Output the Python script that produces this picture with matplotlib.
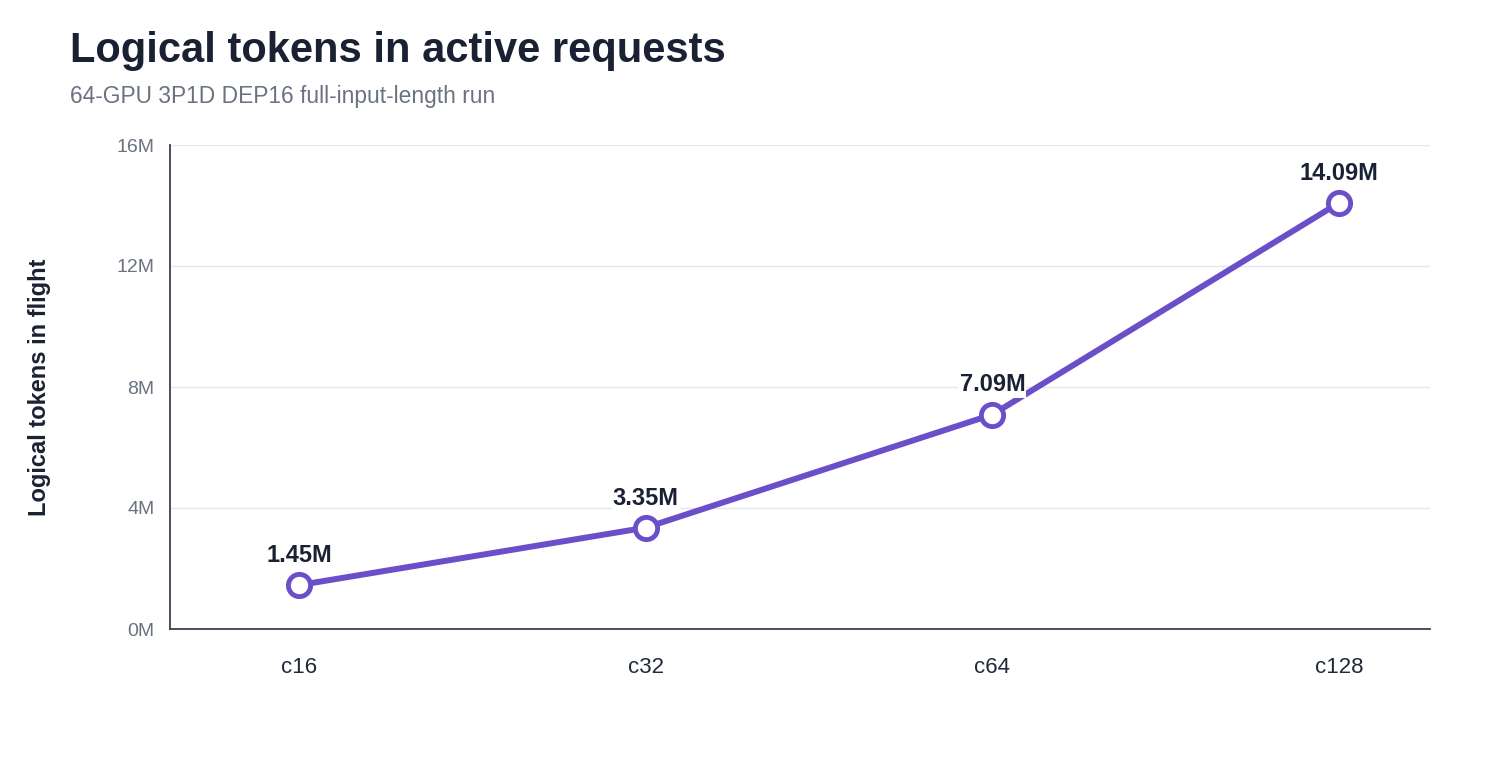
import matplotlib
matplotlib.use("Agg")
import matplotlib.pyplot as plt
from matplotlib.ticker import FuncFormatter

categories = ["c16", "c32", "c64", "c128"]
values_m = [1.45, 3.35, 7.09, 14.09]
labels = ["1.45M", "3.35M", "7.09M", "14.09M"]
yticks = [0, 4, 8, 12, 16]

plt.rcParams['font.family'] = ['Liberation Sans', 'DejaVu Sans']

fig = plt.figure(figsize=(15, 7.6), dpi=100)
ax = fig.add_axes([170/1500, 1-629/760, 1260/1500, 484/760])

x = list(range(len(categories)))
ax.plot(x, values_m, color="#6a4fc9", lw=4.3, marker="o", ms=16,
        mfc="white", mec="#6a4fc9", mew=3.5, zorder=3, solid_capstyle="round")
for xi, v, lab in zip(x, values_m, labels):
    ax.annotate(lab, (xi, v), xytext=(0, 13), textcoords="offset points",
                ha="center", va="bottom", fontsize=17, fontweight="bold",
                color="#1a2133", zorder=4,
                bbox=dict(boxstyle="square,pad=0.05", fc="white", ec="none"))

ax.set_xlim(-0.372, 3.262)
ax.set_ylim(0, 16)
ax.set_yticks(yticks)
ax.yaxis.set_major_formatter(FuncFormatter(lambda v, p: f"{int(v)}M"))
ax.set_xticks(x)
ax.set_xticklabels(categories)
ax.grid(axis="y", color="#e5e7eb", lw=1)
ax.set_axisbelow(True)
for s in ["top", "right"]:
    ax.spines[s].set_visible(False)
for s in ["left", "bottom"]:
    ax.spines[s].set_color("#374151")
    ax.spines[s].set_linewidth(1.3)
ax.tick_params(axis="y", length=0, pad=11, labelsize=14, labelcolor="#6b7280")
ax.tick_params(axis="x", length=0, pad=20, labelsize=16, labelcolor="#1f2937")
ax.set_ylabel("Logical tokens in flight", fontsize=17, fontweight="bold",
              color="#1a2133", labelpad=47)

fig.text(70/1500, 1-51/760, "Logical tokens in active requests", fontsize=30,
         fontweight="bold", color="#1a2133", va="center", ha="left")
fig.text(70/1500, 1-97/760, "64-GPU 3P1D DEP16 full-input-length run", fontsize=16.4,
         color="#6b7280", va="center", ha="left")

fig.savefig("out.png", dpi=100, facecolor="white")
